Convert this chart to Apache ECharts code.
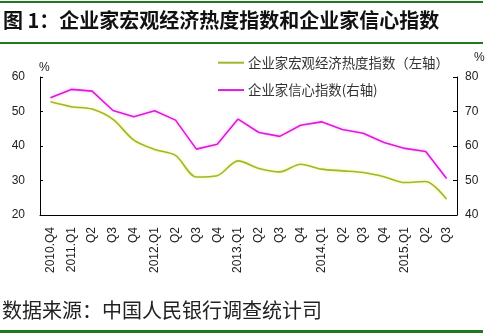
<!DOCTYPE html>
<html><head><meta charset="utf-8">
<script src="https://cdn.jsdelivr.net/npm/echarts@6/dist/echarts.min.js"></script>
<style>html,body{margin:0;padding:0;background:#fff}#c{width:497px;height:333px}</style>
</head><body><div id="c"></div>
<script>
var categories = ['2010.Q4','2011.Q1','Q2','Q3','Q4','2012.Q1','Q2','Q3','Q4','2013.Q1','Q2','Q3','Q4','2014.Q1','Q2','Q3','Q4','2015.Q1','Q2','Q3'];
var heatIndex = [52.8, 51.4, 50.7, 47.7, 41.7, 39.0, 37.3, 31.0, 31.4, 35.7, 33.5, 32.5, 34.7, 33.3, 32.8, 32.3, 31.1, 29.4, 29.7, 24.6];
var confidenceIndex = [74.0, 76.4, 75.9, 70.3, 68.5, 70.2, 67.5, 59.1, 60.5, 67.8, 63.9, 62.8, 66.0, 67.0, 64.8, 63.7, 61.0, 59.3, 58.4, 50.6];
var seriesNames = ['企业家宏观经济热度指数（左轴）', '企业家信心指数(右轴)'];
var titleText = '图 1：企业家宏观经济热度指数和企业家信心指数';
var sourceText = '数据来源：中国人民银行调查统计司';

var FONT = 'Liberation Sans, Arial, Noto Sans CJK SC, sans-serif';
var CJK = 'Noto Sans CJK SC, sans-serif';
var GREEN = '#1f7a1f';
var chart = echarts.init(document.getElementById('c'), null, {renderer: 'canvas'});
chart.setOption({
  animation: false,
  backgroundColor: '#fff',
  textStyle: {fontFamily: FONT},
  graphic: [
    {type: 'rect', shape: {x: 0, y: 1, width: 483, height: 2}, style: {fill: GREEN}},
    {type: 'rect', shape: {x: 0, y: 42, width: 483, height: 2}, style: {fill: GREEN}},
    {type: 'rect', shape: {x: 0, y: 330, width: 483, height: 3}, style: {fill: GREEN}},
    {type: 'text', left: 3, top: 10, style: {text: titleText, font: 'bold 20px ' + CJK, fill: '#111'}},
    {type: 'text', left: 2, top: 300, style: {text: sourceText, font: '20px ' + CJK, fill: '#222'}},
    {type: 'text', left: 39, top: 62, style: {text: '%', font: '12px ' + FONT, fill: '#222'}},
    {type: 'text', left: 474, top: 52, style: {text: '%', font: '12px ' + FONT, fill: '#222'}}
  ],
  legend: {
    orient: 'vertical', left: 213, top: 51, itemWidth: 26, itemHeight: 2, itemGap: 14,
    icon: 'rect',
    textStyle: {fontFamily: CJK, fontSize: 13.4, color: '#333', padding: [0, 0, 0, -1]},
    data: seriesNames
  },
  grid: {left: 40, right: 40, top: 77, bottom: 118},
  xAxis: {
    type: 'category', data: categories, boundaryGap: true,
    axisLine: {lineStyle: {color: '#000', width: 1}},
    axisTick: {inside: true, length: 4, lineStyle: {color: '#000'}},
    axisLabel: {rotate: 90, margin: 12, fontSize: 12, color: '#222', fontFamily: FONT, interval: 0}
  },
  yAxis: [
    {type: 'value', min: 20, max: 60, interval: 10, position: 'left',
     axisLine: {show: true, lineStyle: {color: '#000'}},
     axisTick: {show: true, inside: true, length: 3, lineStyle: {color: '#000'}},
     splitLine: {show: false},
     axisLabel: {margin: 15, fontSize: 12, color: '#222', fontFamily: FONT}},
    {type: 'value', min: 40, max: 80, interval: 10, position: 'right',
     axisLine: {show: true, lineStyle: {color: '#000'}},
     axisTick: {show: true, inside: true, length: 4, lineStyle: {color: '#000'}},
     splitLine: {show: false},
     axisLabel: {margin: 8, fontSize: 12, color: '#222', fontFamily: FONT}}
  ],
  series: [
    {name: seriesNames[0], type: 'line', yAxisIndex: 0, data: heatIndex, smooth: 0.3,
     symbol: 'none', color: '#a0b62c',
     lineStyle: {width: 1.6, color: '#a0b62c', shadowColor: 'rgba(235,235,40,0.6)', shadowBlur: 3}},
    {name: seriesNames[1], type: 'line', yAxisIndex: 1, data: confidenceIndex, smooth: false,
     symbol: 'none', color: '#d81ed8',
     lineStyle: {width: 1.6, color: '#d81ed8', shadowColor: 'rgba(255,120,255,0.6)', shadowBlur: 3}}
  ]
});
</script></body></html>
